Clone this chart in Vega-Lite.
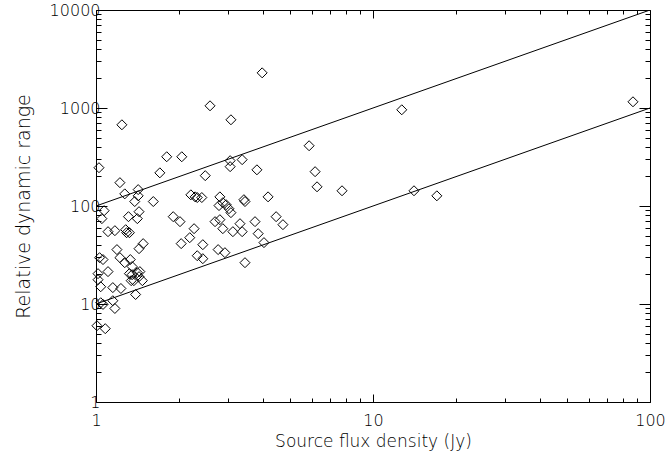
{
  "$schema": "https://vega.github.io/schema/vega-lite/v6.json",
  "width": 554,
  "height": 392,
  "autosize": "none",
  "padding": {"left": 96, "top": 10, "right": 17, "bottom": 51},
  "background": "white",
  "config": {
    "view": {"stroke": null},
    "axis": {
      "domainColor": "black",
      "domainWidth": 1,
      "tickColor": "black",
      "tickWidth": 1,
      "ticks": true,
      "grid": false,
      "labelFont": "DejaVu Sans",
      "labelFontSize": 16,
      "labelFontWeight": 200,
      "labelColor": "black",
      "titleFont": "DejaVu Sans",
      "titleFontSize": 17,
      "titleFontWeight": 200,
      "titleColor": "black",
      "labelOverlap": false,
      "labelFlush": false,
      "labelBound": false
    }
  },
  "layer": [
    {
      "data": {
        "values": [
          {"flux": 3.98, "range": 2285},
          {"flux": 2.58, "range": 1053},
          {"flux": 1.24, "range": 674},
          {"flux": 3.07, "range": 758},
          {"flux": 12.7, "range": 959},
          {"flux": 86.8, "range": 1157},
          {"flux": 1.025, "range": 246},
          {"flux": 1.8, "range": 318},
          {"flux": 2.04, "range": 318},
          {"flux": 1.7, "range": 218},
          {"flux": 1.22, "range": 173},
          {"flux": 2.48, "range": 204},
          {"flux": 3.05, "range": 290},
          {"flux": 3.05, "range": 252},
          {"flux": 3.37, "range": 297},
          {"flux": 3.81, "range": 234},
          {"flux": 5.88, "range": 412},
          {"flux": 6.18, "range": 224},
          {"flux": 6.28, "range": 157},
          {"flux": 7.73, "range": 143},
          {"flux": 14.06, "range": 143},
          {"flux": 17.0, "range": 127},
          {"flux": 1.27, "range": 133},
          {"flux": 1.42, "range": 147},
          {"flux": 1.42, "range": 127},
          {"flux": 1.38, "range": 111},
          {"flux": 1.61, "range": 111},
          {"flux": 2.2, "range": 130},
          {"flux": 2.28, "range": 124},
          {"flux": 2.32, "range": 122},
          {"flux": 2.41, "range": 122},
          {"flux": 2.8, "range": 124},
          {"flux": 3.42, "range": 116},
          {"flux": 3.45, "range": 111},
          {"flux": 4.18, "range": 124},
          {"flux": 1.07, "range": 89.6},
          {"flux": 1.05, "range": 74.3},
          {"flux": 1.31, "range": 77.8},
          {"flux": 1.41, "range": 74.3},
          {"flux": 1.43, "range": 87.5},
          {"flux": 1.9, "range": 77.8},
          {"flux": 2.01, "range": 69.2},
          {"flux": 2.26, "range": 58.7},
          {"flux": 2.78, "range": 101},
          {"flux": 2.87, "range": 108},
          {"flux": 2.95, "range": 103},
          {"flux": 3.02, "range": 93.8},
          {"flux": 3.07, "range": 85.5},
          {"flux": 2.69, "range": 69.2},
          {"flux": 2.8, "range": 72.5},
          {"flux": 2.87, "range": 58.7},
          {"flux": 3.12, "range": 54.7},
          {"flux": 3.31, "range": 66.0},
          {"flux": 3.37, "range": 54.7},
          {"flux": 3.75, "range": 69.2},
          {"flux": 3.85, "range": 52.2},
          {"flux": 4.47, "range": 77.8},
          {"flux": 4.73, "range": 64.5},
          {"flux": 4.04, "range": 42.3},
          {"flux": 2.03, "range": 41.3},
          {"flux": 2.18, "range": 47.5},
          {"flux": 2.43, "range": 40.3},
          {"flux": 2.32, "range": 31.1},
          {"flux": 2.43, "range": 29.0},
          {"flux": 2.76, "range": 35.9},
          {"flux": 2.92, "range": 33.4},
          {"flux": 3.45, "range": 26.4},
          {"flux": 1.105, "range": 54.7},
          {"flux": 1.17, "range": 56.0},
          {"flux": 1.28, "range": 57.3},
          {"flux": 1.29, "range": 53.4},
          {"flux": 1.32, "range": 53.4},
          {"flux": 1.19, "range": 35.9},
          {"flux": 1.43, "range": 36.7},
          {"flux": 1.48, "range": 41.3},
          {"flux": 1.03, "range": 29.7},
          {"flux": 1.06, "range": 28.4},
          {"flux": 1.22, "range": 29.7},
          {"flux": 1.27, "range": 26.4},
          {"flux": 1.33, "range": 28.4},
          {"flux": 1.35, "range": 24.1},
          {"flux": 1.017, "range": 20.4},
          {"flux": 1.105, "range": 21.4},
          {"flux": 1.32, "range": 20.4},
          {"flux": 1.35, "range": 19.9},
          {"flux": 1.41, "range": 20.9},
          {"flux": 1.44, "range": 21.4},
          {"flux": 1.34, "range": 17.3},
          {"flux": 1.37, "range": 17.3},
          {"flux": 1.43, "range": 19.0},
          {"flux": 1.47, "range": 17.3},
          {"flux": 1.017, "range": 17.7},
          {"flux": 1.04, "range": 15.0},
          {"flux": 1.15, "range": 14.7},
          {"flux": 1.23, "range": 14.4},
          {"flux": 1.39, "range": 12.5},
          {"flux": 1.04, "range": 10.3},
          {"flux": 1.06, "range": 9.9},
          {"flux": 1.15, "range": 10.8},
          {"flux": 1.17, "range": 9.0},
          {"flux": 1.008, "range": 6.0},
          {"flux": 1.08, "range": 5.6}
        ]
      },
      "mark": {"type": "point", "shape": "diamond", "filled": false, "stroke": "black", "strokeWidth": 1, "size": 100, "opacity": 1},
      "encoding": {
        "x": {
          "field": "flux", "type": "quantitative",
          "scale": {"type": "log", "domain": [1, 100]},
          "axis": {
            "orient": "bottom",
            "title": "Source flux density (Jy)",
            "titlePadding": 5,
            "values": [1, 10, 100],
            "format": "d",
            "tickSize": -8,
            "labelPadding": 18
          }
        },
        "y": {
          "field": "range", "type": "quantitative",
          "scale": {"type": "log", "domain": [1, 10000]},
          "axis": {
            "orient": "left",
            "title": "Relative dynamic range",
            "titleFontSize": 19,
            "titlePadding": 16,
            "values": [1, 10, 100, 1000, 10000],
            "format": "d",
            "tickSize": -11,
            "labelPadding": 7
          }
        }
      }
    },
    {
      "data": {
        "values": [
          {"x": 1, "y": 100, "s": "upper"},
          {"x": 100, "y": 10000, "s": "upper"},
          {"x": 1, "y": 10, "s": "lower"},
          {"x": 100, "y": 1000, "s": "lower"}
        ]
      },
      "mark": {"type": "line", "color": "black", "strokeWidth": 1, "clip": true},
      "encoding": {
        "x": {
          "field": "x", "type": "quantitative",
          "scale": {"type": "log", "domain": [1, 100]},
          "axis": {"orient": "top", "title": null, "labels": false, "values": [1, 10, 100], "tickSize": -8}
        },
        "y": {
          "field": "y", "type": "quantitative",
          "scale": {"type": "log", "domain": [1, 10000]},
          "axis": {"orient": "right", "title": null, "labels": false, "values": [1, 10, 100, 1000, 10000], "tickSize": -11}
        },
        "detail": {"field": "s", "type": "nominal"}
      }
    },
    {
      "data": {
        "values": [
          {"x": 1, "y": 100, "s": "upper"},
          {"x": 100, "y": 10000, "s": "upper"}
        ]
      },
      "mark": {"type": "line", "color": "black", "strokeWidth": 1, "opacity": 0, "clip": true},
      "encoding": {
        "x": {
          "field": "x", "type": "quantitative",
          "scale": {"type": "log", "domain": [1, 100]},
          "axis": {"orient": "bottom", "title": null, "labels": false, "domain": false, "values": [2, 3, 4, 5, 6, 7, 8, 9, 20, 30, 40, 50, 60, 70, 80, 90], "tickSize": -4}
        },
        "y": {
          "field": "y", "type": "quantitative",
          "scale": {"type": "log", "domain": [1, 10000]},
          "axis": {"orient": "left", "title": null, "labels": false, "domain": false, "values": [2, 3, 4, 5, 6, 7, 8, 9, 20, 30, 40, 50, 60, 70, 80, 90, 200, 300, 400, 500, 600, 700, 800, 900, 2000, 3000, 4000, 5000, 6000, 7000, 8000, 9000], "tickSize": -5}
        }
      }
    },
    {
      "data": {
        "values": [
          {"x": 1, "y": 10, "s": "lower"},
          {"x": 100, "y": 1000, "s": "lower"}
        ]
      },
      "mark": {"type": "line", "color": "black", "strokeWidth": 1, "opacity": 0, "clip": true},
      "encoding": {
        "x": {
          "field": "x", "type": "quantitative",
          "scale": {"type": "log", "domain": [1, 100]},
          "axis": {"orient": "top", "title": null, "labels": false, "domain": false, "values": [2, 3, 4, 5, 6, 7, 8, 9, 20, 30, 40, 50, 60, 70, 80, 90], "tickSize": -4}
        },
        "y": {
          "field": "y", "type": "quantitative",
          "scale": {"type": "log", "domain": [1, 10000]},
          "axis": {"orient": "right", "title": null, "labels": false, "domain": false, "values": [2, 3, 4, 5, 6, 7, 8, 9, 20, 30, 40, 50, 60, 70, 80, 90, 200, 300, 400, 500, 600, 700, 800, 900, 2000, 3000, 4000, 5000, 6000, 7000, 8000, 9000], "tickSize": -5}
        }
      }
    }
  ],
  "resolve": {"axis": {"x": "independent", "y": "independent"}}
}
